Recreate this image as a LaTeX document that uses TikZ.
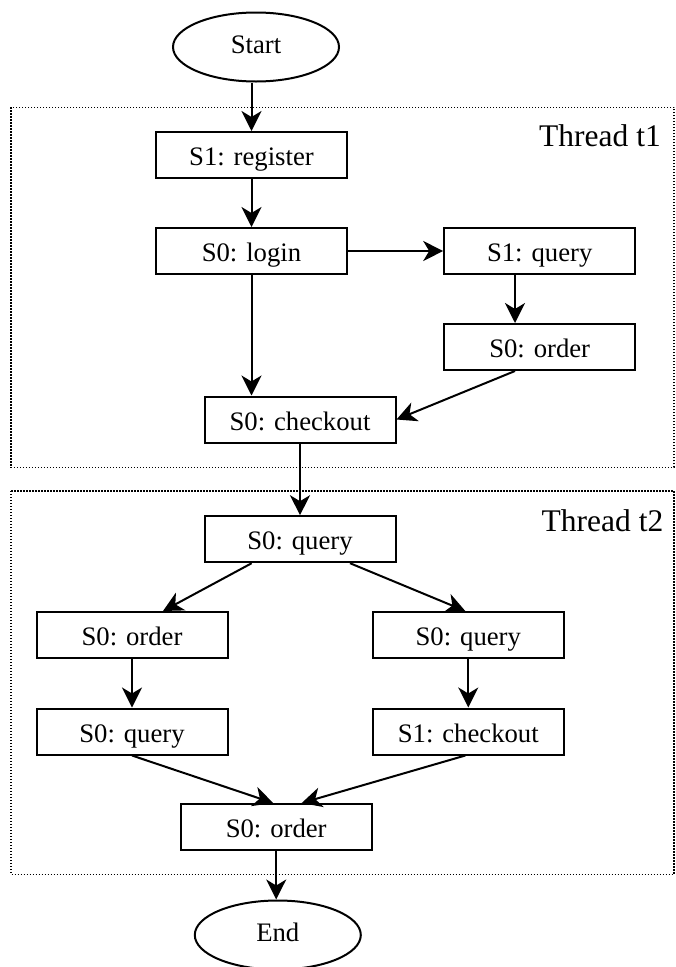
\documentclass[tikz,border=0pt]{standalone}
\usepackage{fontspec}
\setmainfont{Liberation Serif}
\usetikzlibrary{arrows.meta,shapes.geometric}
\begin{document}
\begin{tikzpicture}[x=1pt,y=-1pt,
  box/.style={draw, line width=2pt, rectangle, minimum width=191pt, minimum height=46pt, inner sep=0pt,
    text height=21pt, text depth=0pt, font=\fontsize{26.7}{32}\selectfont},
  term/.style={draw, line width=2pt, ellipse, minimum width=166pt, minimum height=69pt, inner sep=0pt,
    text height=12.6pt, text depth=0pt, font=\fontsize{26.7}{32}\selectfont},
  arr/.style={line width=2pt, -{Stealth[length=20pt,width=20pt,inset=6pt]}},
  region/.style={line width=1.3pt, dash pattern=on 1.3pt off 1.7pt},
  threadlabel/.style={anchor=base east, inner sep=0pt, font=\fontsize{31.5}{37}\selectfont}]
\useasboundingbox (0,0) rectangle (676,967);
% thread regions
\draw[region] (11,107.3) rectangle (674,467.3);
\draw[region] (11,491) rectangle (674,874.3);
\node[threadlabel] (t1) at (661,146.7) {Thread t1};
\node[threadlabel] (t2) at (663.5,531.7) {Thread t2};
% nodes
\node[term] (start) at (256,47) {Start};
\node[box] (reg) at (251.5,155) {S1: register};
\node[box] (login) at (251.5,251) {S0: login};
\node[box] (q1) at (539.7,251) {S1: query};
\node[box] (o1) at (539.7,347) {S0: order};
\node[box] (co1) at (300,419.5) {S0: checkout};
\node[box] (q2) at (300,539.2) {S0: query};
\node[box] (o2) at (132,635) {S0: order};
\node[box] (q3) at (468.3,635) {S0: query};
\node[box] (q4) at (132,731.5) {S0: query};
\node[box] (co2) at (468.3,731.5) {S1: checkout};
\node[box] (o3) at (276.2,827) {S0: order};
\node[term] (end) at (277.8,935) {End};
% connectors
\draw[arr] (reg.north |- start.south) -- (reg.north);
\draw[arr] (reg.south) -- (login.north);
\draw[arr] (login.east) -- (q1.west);
\draw[arr] ([xshift=-24.7pt]q1.south) -- ([xshift=-24.7pt]o1.north);
\draw[arr] ([xshift=-24.7pt]o1.south) -- (co1.east);
\draw[arr] (login.south) -- (login.south |- co1.north);
\draw[arr] (co1.south) -- (q2.north);
\draw[arr] ([xshift=-48.3pt]q2.south) -- ([xshift=31pt]o2.north);
\draw[arr] ([xshift=50pt]q2.south) -- ([xshift=-3pt]q3.north);
\draw[arr] (o2.south) -- (q4.north);
\draw[arr] (q3.south) -- (co2.north);
\draw[arr] (q4.south) -- ([xshift=-3pt]o3.north);
\draw[arr] ([xshift=-3pt]co2.south) -- ([xshift=25.5pt]o3.north);
\draw[arr] (o3.south) -- (o3.south |- end.north);
\end{tikzpicture}
\end{document}
